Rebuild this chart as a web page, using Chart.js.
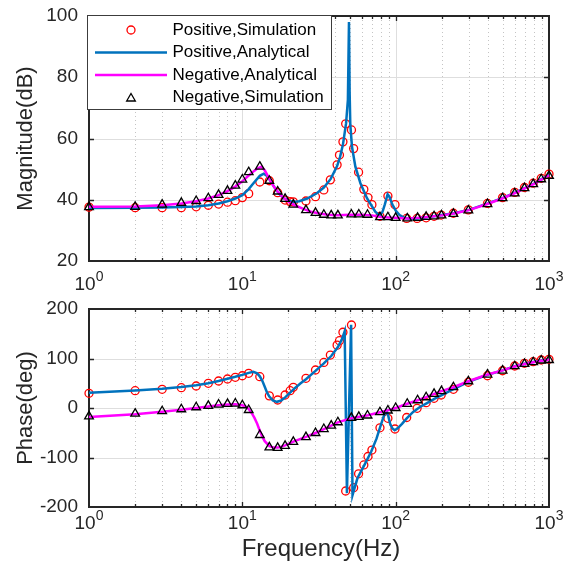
<!DOCTYPE html>
<html><head><meta charset="utf-8">
<script src="https://cdn.jsdelivr.net/npm/chart.js@4/dist/chart.umd.min.js"></script>
<style>
html,body{margin:0;padding:0;background:#fff;}
#wrap{position:relative;width:571px;height:569px;overflow:hidden;}
#c1{position:absolute;left:0;top:0;}
#c2{position:absolute;left:0;top:290px;}
</style></head><body>
<div id="wrap"><canvas id="c1" width="571" height="300"></canvas><canvas id="c2" width="571" height="279"></canvas></div>
<script>
// ---------- data ----------
const posSimFreq = [1,2,3,4,5,6,7,8,9,10,11,13,15,17,19,20.5,21.5,26,30,34,37.5,41.5,43,45.3,47.2,51.5,53.2,57.3,62,66,70,79,89,99,118,138,158,178,198,238,298,397,498,598,692,789,890,1000];
const posSimMag = [37.6,37.4,37.4,37.4,37.7,38.2,38.6,39.2,39.7,40.7,42.0,45.8,46.2,42.3,39.9,39.4,39.3,39.6,41.0,43.2,46.5,51.4,54.6,58.9,64.8,62.8,56.7,49.0,43.4,40.7,38.4,34.6,41.2,38.4,33.9,33.9,34.1,34.6,35.0,35.6,36.7,38.8,40.7,42.4,44.0,45.4,47.0,48.4];
const posSimPhase = [29.7,35,37.8,41,44.4,49.9,54.5,58.6,62,65.2,70.1,63.2,24.5,16.2,26.3,35,41.8,60,76.8,92,107,127,136,153,-167.7,167.7,-161,-133,-115,-98,-85,-40,-20.8,-42.4,-19.2,-0.6,10.7,19.6,26.3,37.8,52,65.2,75.3,84.8,90.3,93.5,97,98.4];

const negSimFreq = [1,2,3,4,5,6,7,8,9,10,11,13,15,17,19,21.5,26,30,34,38,42,51.4,57.5,65.5,79,89,100,119,139,158,178,199,238,298,397,498,598,692,789,890,1000];
const negSimMag = [37.6,37.7,38.4,39.0,39.6,40.5,41.6,42.9,44.6,46.6,49.0,50.8,46.2,42.7,40.3,38.4,36.6,35.7,35.1,34.9,34.9,35.2,35.2,35.1,34.3,34.3,34.1,33.9,34.1,34.4,34.6,34.9,35.4,36.5,38.6,40.5,42.1,43.8,45.1,46.7,47.8];
const negSimPhase = [-17,-11.5,-6.5,-2.5,1.5,4.2,7,8.2,9,5.6,-4,-54.5,-79.5,-80.5,-76.5,-68.5,-58.8,-50.5,-42.5,-35.5,-28.8,-20,-18,-15.2,-8.5,-5,0,8.5,15.7,21.7,28.5,34,42,54,67.6,75.7,84.4,89,92.5,96,97];

const posAnaMagFreq = [1,2,3,4,5,6,7,8,9,10,11,12,13,13.8,14.5,15.5,16.5,17.5,18.6,20,21.5,23.5,26.5,30.6,34,37.7,41.5,43.4,45.3,47.5,48.8,49.6,50.1,50.6,51.9,54.6,58.9,65,73.6,78.6,82,85,88.6,91,95,100,106,115,125,140,160,200,240,300,400,500,600,700,800,900,1000];
const posAnaMag = [37.3,37.4,37.5,37.6,37.8,38.2,38.8,39.5,40.4,41.5,43.5,45.8,47.8,48.5,47.8,45.6,43.4,41.8,40.5,39.7,39.3,39.5,40.4,42.1,44.0,46.8,51.0,54.0,58.0,65.0,72.6,98.0,75.0,64.5,57.3,50.8,45.4,40.5,36.1,34.8,36.0,38.5,41.8,41.0,38.5,36.5,35.0,34.0,33.8,33.9,34.3,35.0,35.6,36.7,38.8,40.6,42.3,43.9,45.3,46.8,48.1];

const negAnaMagFreq = [1,2,3,4,5,6,7,8,9,10,11,12,12.5,13.3,14,15,16,17,18,19,20,22,25,28,32,36,42,50,60,70,80,90,100,120,140,160,200,240,300,400,500,600,700,800,900,1000];
const negAnaMag = [37.7,37.8,38.2,38.8,39.5,40.4,41.5,42.8,44.3,46.0,47.9,49.5,50.2,50.8,49.6,46.8,44.4,42.7,41.3,40.2,39.4,38.2,37.0,36.1,35.5,35.1,34.9,35.1,35.1,34.9,34.4,34.2,34.1,33.9,34.1,34.4,34.9,35.5,36.6,38.7,40.5,42.2,43.8,45.2,46.7,48.0];

const posAnaPhaseFreq = [1,2,3,4,5,6,7,8,9,10,11,11.8,12.5,13,13.5,14,14.5,15,15.8,16.8,18,19.1,20.5,22,24,26,30,34,38,42,44.5,46.5,48.1,51.2,52.3,56.3,62.6,69.3,75,79.3,83.5,87,89.5,92,95,98.5,103,110,118,130,144,160,180,200,238,298,397,498,598,692,789,890,1000];
const posAnaPhase = [31,35.5,39,42.5,46,50,54.5,59,63,67,71,73,70,64,55,43,31,23,15.5,12.5,15.5,22,31,40,50,58,75,90,105,123,138,155,-172,168,-176,-142,-115,-88,-62,-38,-17,-5,-16,-32,-41,-45,-41,-32,-21,-8,2,10,19,26,38,53,67,76,84.5,89.5,93,96,98];

const negAnaPhaseFreq = [1,2,3,4,5,6,7,8,9,10,10.5,11,11.5,12,12.5,13,13.5,14,15,16,17,18,19,21.5,26,30,34,38,42,51.4,58,66,79,89,100,119,139,158,178,199,238,298,397,498,598,692,789,890,1000];
const negAnaPhase = [-18,-12.5,-7.5,-3.5,0,3,5.5,7,7.5,5.5,3,-2,-10,-20,-32,-46,-58,-67,-77,-80,-80,-78,-75.5,-68,-58.5,-50.5,-42.5,-35.5,-29,-20.5,-17.5,-14.5,-8.5,-4.5,0,8.5,15.7,22,28.5,34,42,54,67.6,76,84,89,92.5,95.5,97.5];

const decadeExponents = [0,1,2,3];
const magTicks = [20,40,60,80,100];
const phaseTicks = [-200,-100,0,100,200];
const legendLabels = ['Positive,Simulation','Positive,Analytical','Negative,Analytical','Negative,Simulation'];

// ---------- styling ----------
const FONT = "'Liberation Sans', Arial, sans-serif";
const TXT = '#262626';
const RED = '#ff0000', BLUE = '#0072BD', MAG = '#ff00ff', BLK = '#000000';
Chart.defaults.font.family = FONT;

function pts(xs, ys){ return xs.map((x,i)=>({x:x, y:ys[i]})); }

function drawTri(ctx, x, y, r){
  ctx.beginPath();
  for (let k=0;k<3;k++){
    const a = k*2*Math.PI/3;
    const px = x + Math.sin(a)*r, py = y - Math.cos(a)*r;
    if(k===0) ctx.moveTo(px,py); else ctx.lineTo(px,py);
  }
  ctx.closePath(); ctx.stroke();
}

const axesPlugin = {
  id: 'matlabAxes',
  beforeDatasetsDraw(chart, args, opts){
    const ctx = chart.ctx, a = chart.chartArea, xs = chart.scales.x, ys = chart.scales.y;
    ctx.save();
    ctx.lineWidth = 1;
    // minor x grid (dotted)
    ctx.strokeStyle = '#c4c4c4';
    ctx.setLineDash([1,3]);
    for (let e=0;e<3;e++) for (let m=2;m<=9;m++){
      const px = Math.round(xs.getPixelForValue(m*Math.pow(10,e)))+0.5;
      ctx.beginPath(); ctx.moveTo(px,a.top); ctx.lineTo(px,a.bottom); ctx.stroke();
    }
    ctx.setLineDash([]);
    ctx.strokeStyle = '#dedede';
    decadeExponents.slice(1,-1).forEach(e=>{
      const px = Math.round(xs.getPixelForValue(Math.pow(10,e)))+0.5;
      ctx.beginPath(); ctx.moveTo(px,a.top); ctx.lineTo(px,a.bottom); ctx.stroke();
    });
    opts.yTicks.slice(1,-1).forEach(v=>{
      const py = Math.round(ys.getPixelForValue(v))+0.5;
      ctx.beginPath(); ctx.moveTo(a.left,py); ctx.lineTo(a.right,py); ctx.stroke();
    });
    // ticks (inward)
    ctx.strokeStyle = TXT; ctx.lineWidth = 1.3;
    opts.yTicks.slice(1,-1).forEach(v=>{
      const py = Math.round(ys.getPixelForValue(v))+0.5;
      ctx.beginPath(); ctx.moveTo(a.left,py); ctx.lineTo(a.left+5,py);
      ctx.moveTo(a.right,py); ctx.lineTo(a.right-5,py); ctx.stroke();
    });
    for (let e=0;e<3;e++) for (let m=1;m<=9;m++){
      if (e===0 && m===1) continue;
      const px = Math.round(xs.getPixelForValue(m*Math.pow(10,e)))+0.5;
      const L = (m===1)?5:3;
      ctx.beginPath(); ctx.moveTo(px,a.bottom); ctx.lineTo(px,a.bottom-L);
      ctx.moveTo(px,a.top); ctx.lineTo(px,a.top+L); ctx.stroke();
    }
    // box
    ctx.lineWidth = 2;
    ctx.strokeRect(a.left, a.top, a.right-a.left, a.bottom-a.top);
    ctx.restore();
  },
  afterDraw(chart, args, opts){
    const ctx = chart.ctx, a = chart.chartArea, xs = chart.scales.x;
    ctx.save();
    // x tick labels: 10^e
    decadeExponents.forEach(e=>{
      const px = xs.getPixelForValue(Math.pow(10,e));
      ctx.font = '19px ' + FONT;
      const w1 = ctx.measureText('10').width;
      ctx.font = '14px ' + FONT;
      const w2 = ctx.measureText(String(e)).width;
      const x0 = px - (w1+w2)/2;
      ctx.fillStyle = TXT; ctx.textBaseline = 'middle'; ctx.textAlign = 'left';
      ctx.font = '19px ' + FONT;
      ctx.fillText('10', x0, a.bottom + opts.xLabelOffset);
      ctx.font = '14px ' + FONT;
      ctx.fillText(String(e), x0+w1, a.bottom + opts.xLabelOffset - 8);
    });
    if (opts.xTitle){
      ctx.font = '24px ' + FONT; ctx.textAlign='center'; ctx.textBaseline='middle'; ctx.fillStyle=TXT;
      ctx.fillText(opts.xTitle, (a.left+a.right)/2 + 2, a.bottom + opts.xTitleOffset);
    }
    if (opts.legend){
      const bx=87.5, by=15.5, bw=244, bh=94;
      ctx.fillStyle='#fff'; ctx.fillRect(bx,by,bw,bh);
      ctx.strokeStyle='#3c3c3c'; ctx.lineWidth=1; ctx.strokeRect(bx,by,bw,bh);
      const rowY=[30,52.5,75,97.5];
      chart.data.datasets.forEach((ds,i)=>{
        const yy = rowY[i];
        if (ds.showLine){
          ctx.strokeStyle = ds.borderColor; ctx.lineWidth = ds.borderWidth;
          ctx.beginPath(); ctx.moveTo(95,yy); ctx.lineTo(167,yy); ctx.stroke();
        } else if (ds.pointStyle==='circle'){
          ctx.strokeStyle = ds.pointBorderColor; ctx.lineWidth = ds.pointBorderWidth;
          ctx.beginPath(); ctx.arc(131,yy,ds.pointRadius,0,Math.PI*2); ctx.stroke();
        } else {
          ctx.strokeStyle = ds.pointBorderColor; ctx.lineWidth = ds.pointBorderWidth;
          drawTri(ctx,131,yy+1,ds.pointRadius);
        }
        ctx.fillStyle = '#000'; ctx.font = '17px ' + FONT; ctx.textAlign='left'; ctx.textBaseline='middle';
        ctx.fillText(ds.label, 172.5, yy);
      });
    }
    ctx.restore();
  }
};

function datasets(pSim, pAnaF, pAna, nAnaF, nAna, nSim){
  return [
    {label:legendLabels[0], data:pts(posSimFreq,pSim), showLine:false, pointStyle:'circle', pointRadius:4, pointBorderColor:RED, pointBackgroundColor:'rgba(0,0,0,0)', pointBorderWidth:1.3, order:4, clip:10},
    {label:legendLabels[1], data:pts(pAnaF,pAna), showLine:true, borderColor:BLUE, borderWidth:2.5, pointRadius:0, tension:0, order:3, clip:4},
    {label:legendLabels[2], data:pts(nAnaF,nAna), showLine:true, borderColor:MAG, borderWidth:2.5, pointRadius:0, tension:0, order:2, clip:4},
    {label:legendLabels[3], data:pts(negSimFreq,nSim), showLine:false, pointStyle:'triangle', pointRadius:5, pointBorderColor:BLK, pointBackgroundColor:'rgba(0,0,0,0)', pointBorderWidth:1.3, order:1, clip:10}
  ];
}

function options(yTicks, yTitle, xAxisH, padTop, plug){
  return {
    responsive:false, animation:false, devicePixelRatio:1, maintainAspectRatio:false,
    layout:{padding:{left:0,right:22,top:padTop,bottom:0}},
    plugins:{legend:{display:false}, tooltip:{enabled:false}, matlabAxes:plug},
    scales:{
      x:{type:'logarithmic', min:1, max:1000, ticks:{display:false}, grid:{display:false,drawTicks:false}, border:{display:false},
         afterFit(s){ s.height = xAxisH; s.paddingLeft = 0; s.paddingRight = 0; }},
      y:{type:'linear', min:yTicks[0], max:yTicks[yTicks.length-1],
         afterBuildTicks(s){ s.ticks = yTicks.map(v=>({value:v})); },
         ticks:{padding:11, color:TXT, font:{size:19, family:FONT}},
         grid:{display:false,drawTicks:false}, border:{display:false},
         title:{display:true, text:yTitle, color:TXT, font:{size:22, family:FONT}, padding:{top:13,bottom:0}},
         afterFit(s){ s.width = 89; s.paddingTop = 0; s.paddingBottom = 0; }}
    }
  };
}

new Chart(document.getElementById('c1'), {
  type:'scatter',
  data:{datasets:datasets(posSimMag, posAnaMagFreq, posAnaMag, negAnaMagFreq, negAnaMag, negSimMag)},
  options:options(magTicks, 'Magnitude(dB)', 39, 16, {yTicks:magTicks, xLabelOffset:24, legend:true}),
  plugins:[axesPlugin]
});

new Chart(document.getElementById('c2'), {
  type:'scatter',
  data:{datasets:datasets(posSimPhase, posAnaPhaseFreq, posAnaPhase, negAnaPhaseFreq, negAnaPhase, negSimPhase)},
  options:options(phaseTicks, 'Phase(deg)', 62, 19, {yTicks:phaseTicks, xLabelOffset:17, xTitle:'Frequency(Hz)', xTitleOffset:42}),
  plugins:[axesPlugin]
});
</script>
</body></html>
